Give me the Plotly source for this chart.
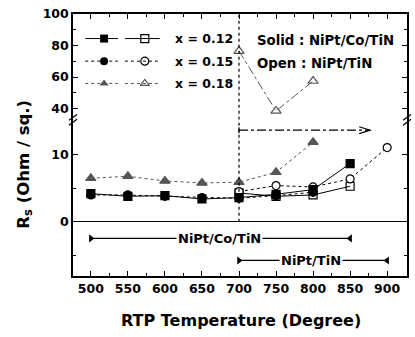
import plotly.graph_objects as go

# ---------------- data ----------------
temps_co = [500, 550, 600, 650, 700, 750, 800, 850]
rs_012_co = [4.2, 3.8, 3.9, 3.4, 3.6, 4.1, 4.8, 8.7]
temps_co_015 = [500, 550, 600, 650, 700, 750, 800]
rs_015_co = [4.0, 4.0, 3.8, 3.6, 3.5, 3.9, 4.4]
temps_co_018 = [500, 550, 600, 650, 700, 750, 800]
rs_018_co = [6.5, 6.8, 6.1, 5.8, 5.9, 7.4, 11.9]

temps_open_012 = [700, 750, 800, 850]
rs_012_open = [4.3, 3.8, 4.0, 5.3]
temps_open_015 = [700, 750, 800, 850, 900]
rs_015_open = [4.5, 5.4, 5.2, 6.4, 11.1]
temps_open_018 = [700, 750, 800]
rs_018_open = [76.5, 38.5, 57.5]

x_ticks = [500, 550, 600, 650, 700, 750, 800, 850, 900]
y_low_ticks = [0, 10]
y_up_ticks = [40, 60, 80, 100]

legend_labels = ["x = 0.12", "x = 0.15", "x = 0.18"]

# ---------------- geometry helpers ----------------
L, R, T, B = 72.7, 409.0, 9.3, 276.0
W, H = 415, 337
def px(xp):
    return (xp - L) / (R - L)
def py(yp):
    return (B - yp) / (B - T)

BREAK = py(117)
X_RANGE = [475.9, 926.8]
Y_LOW = [-8.13, 15.25]
Y_UP = [32.9, 100]

BLACK = "black"
GRAY = "#555555"
FONT = "DejaVu Sans"

fig = go.Figure()

def add(x, y, symbol, color, dash, xa="x", ya="y", size=8, fill=None):
    fig.add_trace(go.Scatter(
        x=x, y=y, mode="lines+markers", xaxis=xa, yaxis=ya,
        line=dict(color=color, width=1, dash=dash),
        marker=dict(symbol=symbol, size=size, color=fill if fill else color,
                    line=dict(color=color, width=1.2)),
        showlegend=False, hoverinfo="skip"))

# lower panel
add(temps_co_018, rs_018_co, "triangle-up", GRAY, "dot", size=9)
add(temps_open_012, rs_012_open, "square-open", BLACK, "solid", size=8)
add(temps_open_015, rs_015_open, "circle", BLACK, "dot", size=8, fill="white")
add(temps_co_015, rs_015_co, "circle", BLACK, "dot", size=8)
add(temps_co, rs_012_co, "square", BLACK, "solid", size=8)
# upper panel
add(temps_open_018, rs_018_open, "triangle-up-open", GRAY, "dashdot", xa="x2", ya="y2", size=9)

# ---------------- legend (overlay axes in pixel units) ----------------
rows_y = [34.3, 57.3, 80.0]
styles = [("square", "square-open", BLACK, "solid"),
          ("circle", "circle-open", BLACK, "dot"),
          ("triangle-up", "triangle-up-open", GRAY, "dot")]
for ry, (s1, s2, col, dsh) in zip(rows_y, styles):
    fig.add_trace(go.Scatter(x=[85, 118], y=[ry, ry], mode="lines", xaxis="x3", yaxis="y3",
                             line=dict(color=col, width=1, dash=dsh), showlegend=False, hoverinfo="skip"))
    fig.add_trace(go.Scatter(x=[125, 160], y=[ry, ry], mode="lines", xaxis="x3", yaxis="y3",
                             line=dict(color=col, width=1, dash=dsh), showlegend=False, hoverinfo="skip"))
    fig.add_trace(go.Scatter(x=[104], y=[ry], mode="markers", xaxis="x3", yaxis="y3",
                             marker=dict(symbol=s1, size=8, color=col), showlegend=False, hoverinfo="skip"))
    fig.add_trace(go.Scatter(x=[145], y=[ry], mode="markers", xaxis="x3", yaxis="y3",
                             marker=dict(symbol=s2, size=8, color="white" if "open" not in s2 else col,
                                         line=dict(color=col, width=1.2)),
                             showlegend=False, hoverinfo="skip"))

annotations = []
for ry, lab in zip(rows_y, legend_labels):
    annotations.append(dict(x=px(173), y=py(ry), xref="paper", yref="paper", text=lab,
                            showarrow=False, xanchor="left", yanchor="middle",
                            font=dict(size=12.5, family=FONT, weight="bold", color=BLACK)))
annotations.append(dict(x=px(256), y=py(36), xref="paper", yref="paper", text="Solid : NiPt/Co/TiN",
                        showarrow=False, xanchor="left", yanchor="middle",
                        font=dict(size=13.3, family=FONT, weight="bold", color=BLACK)))
annotations.append(dict(x=px(256), y=py(60), xref="paper", yref="paper", text="Open : NiPt/TiN",
                        showarrow=False, xanchor="left", yanchor="middle",
                        font=dict(size=13.3, family=FONT, weight="bold", color=BLACK)))

# ---------------- range bars below zero ----------------
bar_co = [500, 850]
bar_tin = [700, 900]
y_bar_co, y_bar_tin = -2.5, -5.8
for xs, yv in [(bar_co, y_bar_co), (bar_tin, y_bar_tin)]:
    fig.add_trace(go.Scatter(x=xs, y=[yv, yv], mode="lines", line=dict(color=BLACK, width=1.2),
                             showlegend=False, hoverinfo="skip"))
    fig.add_trace(go.Scatter(x=xs, y=[yv, yv], mode="markers",
                             marker=dict(symbol=["triangle-right", "triangle-left"], size=7, color=BLACK),
                             showlegend=False, hoverinfo="skip"))
annotations.append(dict(x=673, y=y_bar_co, xref="x", yref="y", text="NiPt/Co/TiN", showarrow=False,
                        bgcolor="white", borderpad=1,
                        font=dict(size=13, family=FONT, weight="bold", color=BLACK)))
annotations.append(dict(x=797, y=y_bar_tin, xref="x", yref="y", text="NiPt/TiN", showarrow=False,
                        bgcolor="white", borderpad=1,
                        font=dict(size=13, family=FONT, weight="bold", color=BLACK)))

# axis titles
annotations.append(dict(x=px(242), y=py(321), xref="paper", yref="paper", text="RTP Temperature (Degree)",
                        showarrow=False, xanchor="center", yanchor="middle",
                        font=dict(size=16, family=FONT, weight="bold", color=BLACK)))
annotations.append(dict(x=px(23), y=py(162), xref="paper", yref="paper",
                        text="R<sub>s</sub> (Ohm / sq.)", textangle=-90,
                        showarrow=False, xanchor="center", yanchor="middle",
                        font=dict(size=16.5, family=FONT, weight="bold", color=BLACK)))

# ---------------- shapes ----------------
shapes = []
# dotted vertical line at 700
shapes.append(dict(type="line", xref="x", yref="y", x0=700, x1=700, y0=0, y1=Y_LOW[1],
                   line=dict(color=BLACK, width=1.2, dash="dot")))
shapes.append(dict(type="line", xref="x2", yref="y2", x0=700, x1=700, y0=Y_UP[0], y1=Y_UP[1],
                   line=dict(color=BLACK, width=1.2, dash="dot")))
# dash-dot arrow
arrow_y = 13.7
arrow_x = [700, 877]
shapes.append(dict(type="line", xref="x", yref="y", x0=arrow_x[0], x1=arrow_x[1], y0=arrow_y, y1=arrow_y,
                   line=dict(color=BLACK, width=1.2, dash="dashdot")))
shapes.append(dict(type="line", xref="x", yref="y", x0=700, x1=700, y0=arrow_y - 0.45, y1=arrow_y + 0.45,
                   line=dict(color=BLACK, width=1.2)))
dxu, dyu = 1 / 0.7458, 1 / 6.8
shapes.append(dict(type="path", xref="x", yref="y",
                   path=f"M {arrow_x[1]-11*dxu},{arrow_y+3.5*dyu} L {arrow_x[1]},{arrow_y} L {arrow_x[1]-11*dxu},{arrow_y-3.5*dyu}",
                   line=dict(color=BLACK, width=1.2)))
# axis break marks
for xc in [px(L), px(R)]:
    for off in [-2.5, 2.5]:
        yc = BREAK + off / (B - T)
        shapes.append(dict(type="line", xref="paper", yref="paper",
                           x0=xc - 4 / (R - L), x1=xc + 4 / (R - L),
                           y0=yc - 3 / (B - T), y1=yc + 3 / (B - T),
                           line=dict(color=BLACK, width=1.3)))

tickfont = dict(size=12.5, family=FONT, weight="bold", color=BLACK)
common_x = dict(range=X_RANGE, tickmode="array", tickvals=x_ticks, ticks="inside", ticklen=5,
                tickwidth=1.2, tickcolor=BLACK, showline=True, linecolor=BLACK, linewidth=1.5,
                showgrid=False, zeroline=False,
                minor=dict(tickvals=[525, 575, 625, 675, 725, 775, 825, 875], ticks="inside",
                           ticklen=3, tickcolor=BLACK, tickwidth=1, showgrid=False))

fig.update_layout(
    width=W, height=H,
    margin=dict(l=L, r=W - R, t=T, b=H - B),
    paper_bgcolor="white", plot_bgcolor="rgba(0,0,0,0)",
    font=dict(family=FONT, color=BLACK),
    xaxis=dict(**common_x, anchor="y", tickfont=tickfont, showticklabels=True),
    xaxis2=dict(**common_x, anchor="y2", side="top", matches="x", showticklabels=False),
    yaxis=dict(domain=[0, BREAK], range=Y_LOW, tickmode="array", tickvals=y_low_ticks,
               ticks="inside", ticklen=5, tickwidth=1.2, tickcolor=BLACK, mirror="ticks",
               showline=True, linecolor=BLACK, linewidth=1.5, showgrid=False,
               zeroline=True, zerolinecolor=BLACK, zerolinewidth=1.3, tickfont=tickfont,
               minor=dict(tickvals=[-5, 5], ticks="inside", ticklen=3, tickcolor=BLACK, showgrid=False),
               anchor="x"),
    yaxis2=dict(domain=[BREAK, 1], range=Y_UP, tickmode="array", tickvals=y_up_ticks,
                ticks="inside", ticklen=5, tickwidth=1.2, tickcolor=BLACK, mirror="ticks",
                showline=True, linecolor=BLACK, linewidth=1.5, showgrid=False, zeroline=False,
                tickfont=tickfont,
                minor=dict(tickvals=[50, 70, 90], ticks="inside", ticklen=3, tickcolor=BLACK, showgrid=False),
                anchor="x2"),
    xaxis3=dict(domain=[0, 1], range=[L, R], visible=False, anchor="y3"),
    yaxis3=dict(domain=[0, 1], range=[B, T], visible=False, anchor="x3"),
    annotations=annotations, shapes=shapes,
)

fig.write_html("out.html")
